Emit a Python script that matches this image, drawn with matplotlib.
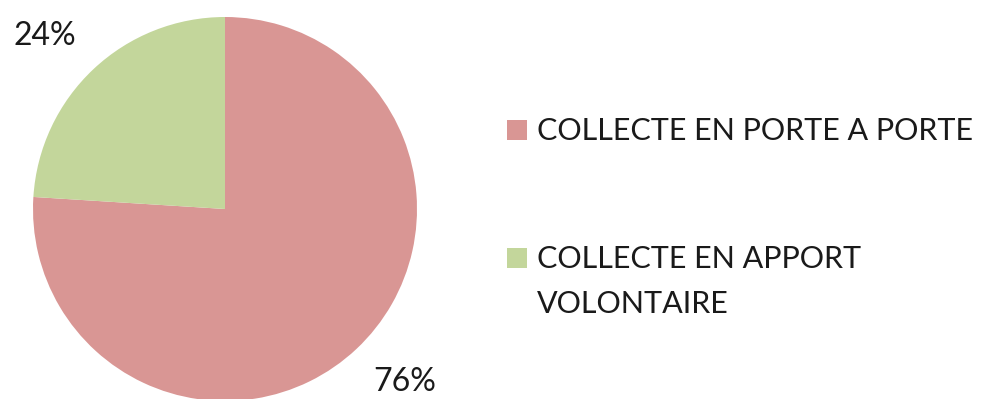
import matplotlib
matplotlib.use('Agg')
import matplotlib.pyplot as plt
from matplotlib.patches import Rectangle
import numpy as np

labels = ['COLLECTE EN PORTE A PORTE', 'COLLECTE EN APPORT\nVOLONTAIRE']
shares = [76, 24]
colors = ['#d99694', '#c3d69b']

plt.rcParams['font.family'] = ['Lato', 'DejaVu Sans']

W, H = 989.0, 399.0
fig = plt.figure(figsize=(W / 100, H / 100), dpi=100)

# pie centred near (225, 209) px with radius ~192 px
r = 192.0
cx, cy = 225.0, 209.0
ax = fig.add_axes([(cx - r) / W, (H - cy - r) / H, 2 * r / W, 2 * r / H])
wedges, texts, autotexts = ax.pie(shares, colors=colors, startangle=90, counterclock=False,
                                  autopct='%1.0f%%', pctdistance=1.3, radius=1.0,
                                  wedgeprops=dict(linewidth=0))
# nudge the labels a few degrees anticlockwise, like the original
rot = np.deg2rad(3)
for t in autotexts:
    x, y = t.get_position()
    t.set_position((x * np.cos(rot) - y * np.sin(rot), x * np.sin(rot) + y * np.cos(rot)))
    t.set_fontsize(23)
    t.set_color('#1a1a1a')
ax.set_xlim(-1, 1)
ax.set_ylim(-1, 1)
ax.axis('off')

# legend drawn by hand so the swatch sits on the first line of the label
top = [120, 248]
for lab, c, y0 in zip(labels, colors, top):
    fig.patches.append(Rectangle((507 / W, 1 - (y0 + 20) / H), 20 / W, 20 / H,
                                 transform=fig.transFigure, facecolor=c, edgecolor='none'))
    for k, line in enumerate(lab.split('\n')):
        base = y0 + 20 + k * 45
        fig.text(537 / W, 1 - base / H, line, fontsize=22, color='#1a1a1a',
                 ha='left', va='baseline')

plt.savefig('out.png', dpi=100)
